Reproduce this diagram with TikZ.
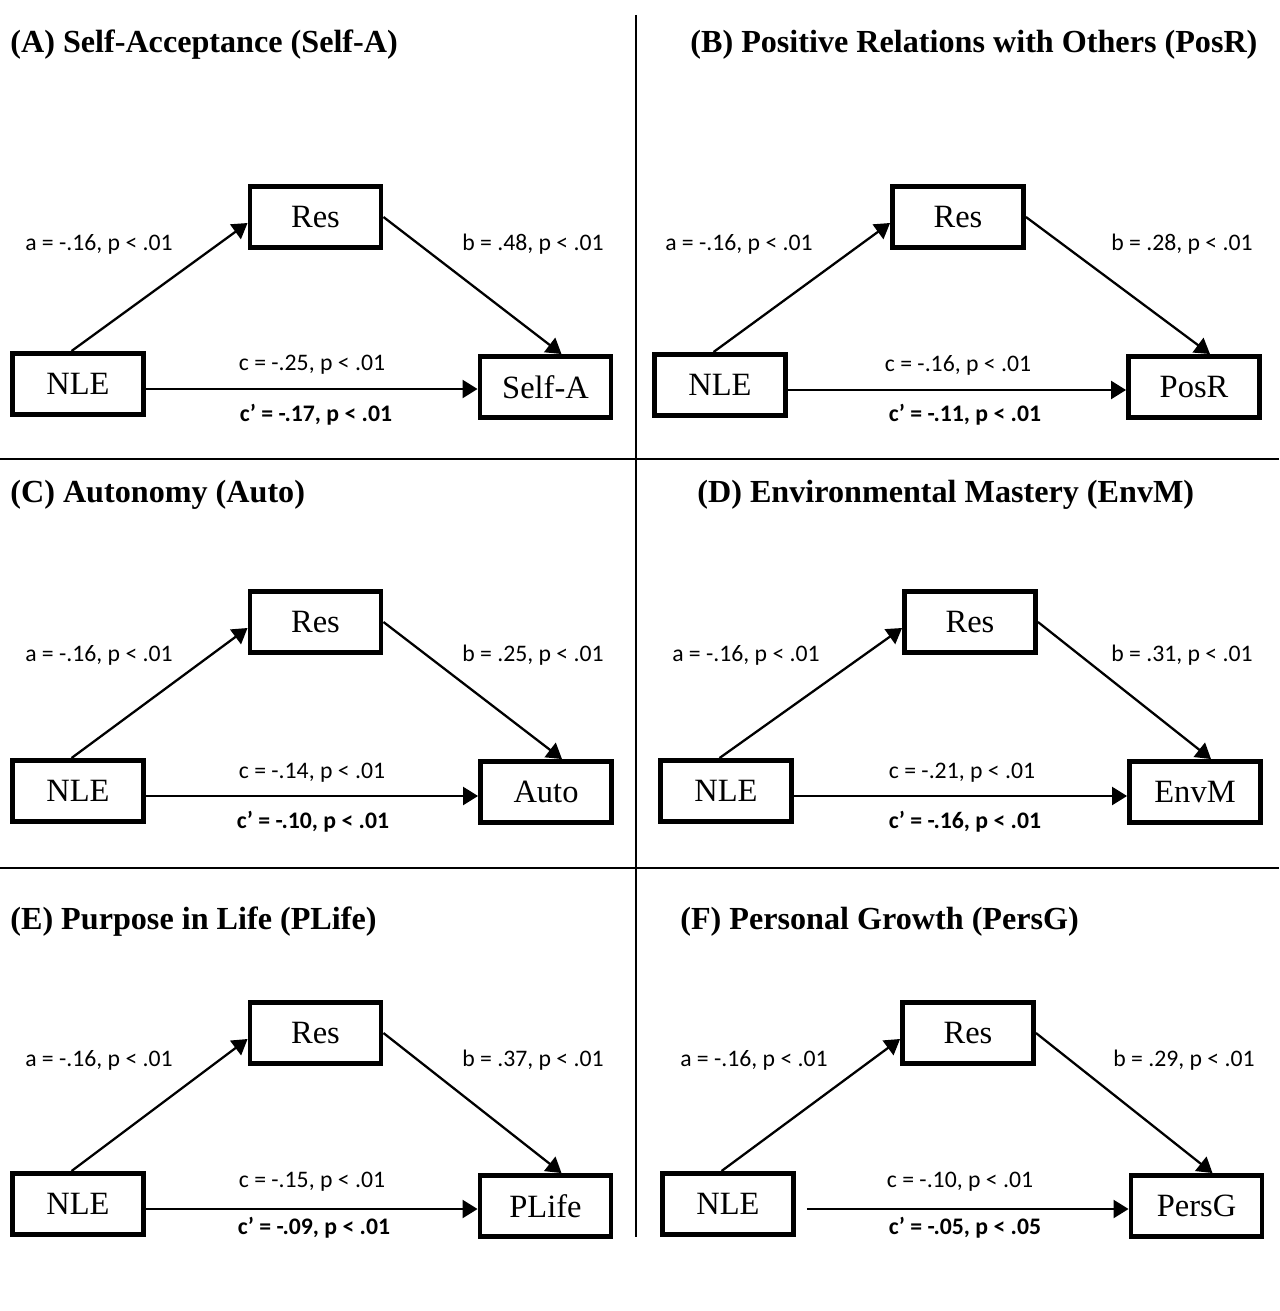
\documentclass[tikz,border=0pt]{standalone}
\usepackage{fontspec}
\setmainfont{Liberation Serif}
\newfontfamily\coeffont{Carlito}
\usetikzlibrary{arrows.meta}

\tikzset{
  var/.style={draw, line width=2.8pt, minimum width=2.62cm, minimum height=1.22cm,
    inner sep=0pt, font=\fontsize{18.5}{22}\selectfont},
  effect/.style={-{Triangle[length=0.3cm,width=0.36cm]}, line width=1.3pt},
  coef/.style={font=\coeffont\fontsize{13.5}{16}\selectfont},
  coefbold/.style={font=\coeffont\bfseries\fontsize{13.5}{16}\selectfont},
  paneltitle/.style={anchor=west, inner sep=0pt, font=\bfseries\fontsize{18.3}{21}\selectfont},
  divider/.style={line width=1pt}
}

\begin{document}
\begin{tikzpicture}[x=0.02cm, y=-0.02cm]
  \useasboundingbox (0,0) rectangle (1279,1311);

  % dividing lines
  \coordinate (vtop) at (636,15);
  \coordinate (vbot) at (636,1237);
  \coordinate (h1l) at (0,459);
  \coordinate (h1r) at (1279,459);
  \coordinate (h2l) at (0,868);
  \coordinate (h2r) at (1279,868);
  \draw[divider] (vtop) -- (vbot);
  \draw[divider] (h1l) -- (h1r);
  \draw[divider] (h2l) -- (h2r);

  % (A) self-acceptance
  \node[paneltitle] (titleA) at (10,45) {(A) Self-Acceptance (Self-A)};
  \node[var] (nleA) at (78,384) {NLE};
  \node[var] (resA) at (315.5,217) {Res};
  \node[var] (selfA) at (545.5,387) {Self-A};
  \draw[effect] ([xshift=-0.13cm]nleA.north) -- ([yshift=-0.12cm]resA.west);
  \draw[effect] (resA.east) -- ([xshift=0.32cm]selfA.north);
  \draw[effect] ([yshift=-0.1cm]nleA.east) -- ([yshift=-0.1cm]nleA.east -| selfA.west);
  \node[coef] (aA) at (99,244) {a = -.16, p < .01};
  \node[coef] (bA) at (533,244) {b = .48, p < .01};
  \node[coef] (cA) at (312,365) {c = -.25, p < .01};
  \node[coefbold] (cpA) at (316,415) {c’ = -.17, p < .01};

  % (B) positive relations
  \node[paneltitle] (titleB) at (690,45) {(B) Positive Relations with Others (PosR)};
  \node[var] (nleB) at (720,385) {NLE};
  \node[var] (resB) at (958,217) {Res};
  \node[var] (posB) at (1194,387) {PosR};
  \draw[effect] ([xshift=-0.13cm]nleB.north) -- ([yshift=-0.12cm]resB.west);
  \draw[effect] (resB.east) -- ([xshift=0.32cm]posB.north);
  \draw[effect] ([yshift=-0.1cm]nleB.east) -- ([yshift=-0.1cm]nleB.east -| posB.west);
  \node[coef] (aB) at (739,244) {a = -.16, p < .01};
  \node[coef] (bB) at (1182,244) {b = .28, p < .01};
  \node[coef] (cB) at (958,365) {c = -.16, p < .01};
  \node[coefbold] (cpB) at (965,415) {c’ = -.11, p < .01};

  % (C) autonomy
  \node[paneltitle] (titleC) at (10,495) {(C) Autonomy (Auto)};
  \node[var] (nleC) at (78,791) {NLE};
  \node[var] (resC) at (315.5,622) {Res};
  \node[var] (autoC) at (546,792) {Auto};
  \draw[effect] ([xshift=-0.13cm]nleC.north) -- ([yshift=-0.12cm]resC.west);
  \draw[effect] (resC.east) -- ([xshift=0.32cm]autoC.north);
  \draw[effect] ([yshift=-0.1cm]nleC.east) -- ([yshift=-0.1cm]nleC.east -| autoC.west);
  \node[coef] (aC) at (99,655) {a = -.16, p < .01};
  \node[coef] (bC) at (533,655) {b = .25, p < .01};
  \node[coef] (cC) at (312,773) {c = -.14, p < .01};
  \node[coefbold] (cpC) at (313,822) {c’ = -.10, p < .01};

  % (D) environmental mastery
  \node[paneltitle] (titleD) at (697,495) {(D) Environmental Mastery (EnvM)};
  \node[var] (nleD) at (726,791) {NLE};
  \node[var] (resD) at (970,622) {Res};
  \node[var] (envD) at (1195,792) {EnvM};
  \draw[effect] ([xshift=-0.13cm]nleD.north) -- ([yshift=-0.12cm]resD.west);
  \draw[effect] (resD.east) -- ([xshift=0.32cm]envD.north);
  \draw[effect] ([yshift=-0.1cm]nleD.east) -- ([yshift=-0.1cm]nleD.east -| envD.west);
  \node[coef] (aD) at (746,655) {a = -.16, p < .01};
  \node[coef] (bD) at (1182,655) {b = .31, p < .01};
  \node[coef] (cD) at (962,773) {c = -.21, p < .01};
  \node[coefbold] (cpD) at (965,822) {c’ = -.16, p < .01};

  % (E) purpose in life
  \node[paneltitle] (titleE) at (10,922) {(E) Purpose in Life (PLife)};
  \node[var] (nleE) at (78,1204) {NLE};
  \node[var] (resE) at (315.5,1033) {Res};
  \node[var] (lifeE) at (545.5,1206) {PLife};
  \draw[effect] ([xshift=-0.13cm]nleE.north) -- ([yshift=-0.12cm]resE.west);
  \draw[effect] (resE.east) -- ([xshift=0.32cm]lifeE.north);
  \draw[effect] ([yshift=-0.1cm]nleE.east) -- ([yshift=-0.1cm]nleE.east -| lifeE.west);
  \node[coef] (aE) at (99,1060) {a = -.16, p < .01};
  \node[coef] (bE) at (533,1060) {b = .37, p < .01};
  \node[coef] (cE) at (312,1182) {c = -.15, p < .01};
  \node[coefbold] (cpE) at (314,1228) {c’ = -.09, p < .01};

  % (F) personal growth
  \node[paneltitle] (titleF) at (680,922) {(F) Personal Growth (PersG)};
  \node[var] (nleF) at (728,1204) {NLE};
  \node[var] (resF) at (968,1033) {Res};
  \node[var] (growF) at (1196.5,1206) {PersG};
  \draw[effect] ([xshift=-0.13cm]nleF.north) -- ([yshift=-0.12cm]resF.west);
  \draw[effect] (resF.east) -- ([xshift=0.32cm]growF.north);
  \draw[effect] ([shift={(0.22cm,-0.1cm)}]nleF.east) -- ([yshift=-0.1cm]nleF.east -| growF.west);
  \node[coef] (aF) at (754,1060) {a = -.16, p < .01};
  \node[coef] (bF) at (1184,1060) {b = .29, p < .01};
  \node[coef] (cF) at (960,1182) {c = -.10, p < .01};
  \node[coefbold] (cpF) at (965,1228) {c’ = -.05, p < .05};
\end{tikzpicture}
\end{document}
